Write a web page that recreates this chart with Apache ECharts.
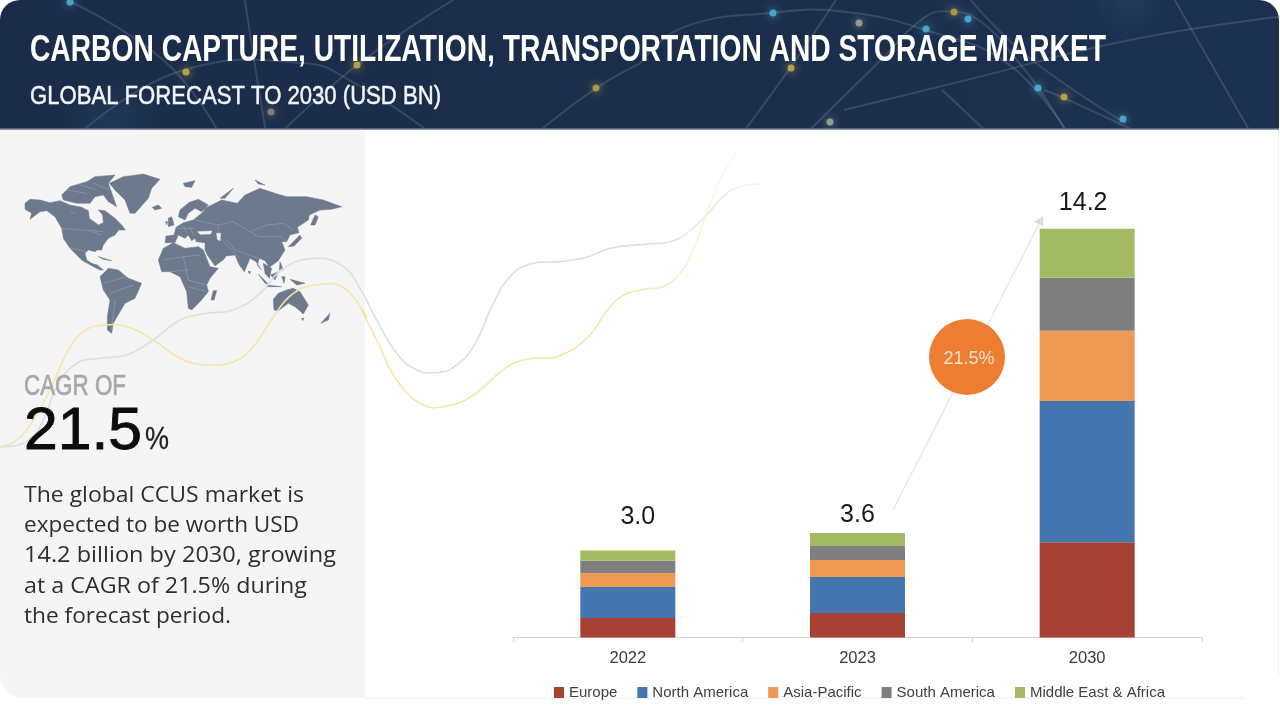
<!DOCTYPE html>
<html><head><meta charset="utf-8">
<style>html,body{margin:0;padding:0;background:#fff}#c{width:1280px;height:706px}</style>
<script src="https://cdn.jsdelivr.net/npm/echarts@6/dist/echarts.min.js"></script>
</head><body><div id="c"></div>
<script>
// ---- chart data ----
const categories = ['2022', '2023', '2030'];
const europe = [0.68, 0.85, 3.31];
const northAmerica = [1.07, 1.25, 4.90];
const asiaPacific = [0.49, 0.59, 2.44];
const southAmerica = [0.42, 0.49, 1.84];
const middleEastAfrica = [0.36, 0.45, 1.70];
const totals = ['3.0', '3.6', '14.2'];
const seriesNames = ['Europe', 'North America', 'Asia-Pacific', 'South America', 'Middle East & Africa'];
const titleText = 'CARBON CAPTURE, UTILIZATION, TRANSPORTATION AND STORAGE MARKET';
const subtitleText = 'GLOBAL FORECAST TO 2030 (USD BN)';
const bodyLines = ['The global CCUS market is', 'expected to be worth USD', '14.2 billion by 2030, growing', 'at a CAGR of 21.5% during', 'the forecast period.'];

// ---- decoration helpers ----
const ctx = document.createElement('canvas').getContext('2d');
function fitText(text, x, y, width, font, size, weight, color, strokeW) {
  ctx.font = (weight || 'normal') + ' ' + size + 'px ' + font;
  const w = ctx.measureText(text).width;
  const style = { text: text, fontFamily: font, fontSize: size, fontWeight: weight || 'normal', fill: color, verticalAlign: 'middle', align: 'left' };
  if (strokeW) { style.stroke = color; style.lineWidth = strokeW; }
  return { type: 'text', x: x, y: y, scaleX: width / w, style: style };
}
const NARROW = '"Liberation Sans Narrow","Liberation Sans"';
const SANS = '"Liberation Sans"';
const PANEL = '#f5f5f5';
const LAND = '#6d7a8d';
const map = (pts, ox, oy, fx, fy) => pts.map(p => [p[0] / (fx || 3) + ox, p[1] / (fy || 3) + oy]);
const A = pts => map(pts, 20, 170);
const B = pts => map(pts, 150, 170);
const land = (pts, fill) => ({ type: 'polygon', shape: { points: pts }, style: { fill: fill || LAND, stroke: fill || LAND, lineWidth: 0.5 } });
const crack = pts => ({ type: 'polyline', shape: { points: pts }, style: { stroke: '#c3c9d2', lineWidth: 0.6, fill: null, opacity: 0.5 } });
function curve(pts, color, w, op) {
  return { type: 'polyline', shape: { points: pts, smooth: 0.45 }, style: { stroke: color, lineWidth: w, fill: null, opacity: op === undefined ? 1 : op } };
}

const landA = [
  // North America with Central America
  [[15,100],[30,88],[60,90],[90,98],[120,92],[150,105],[185,112],[205,122],[208,145],[235,165],[250,158],[248,135],[235,120],[255,122],[285,145],[305,165],[316,180],[296,180],[285,195],[265,205],[250,225],[245,240],[232,240],[225,245],[205,240],[195,250],[200,270],[215,280],[232,285],[250,300],[240,300],[215,287],[185,270],[165,250],[150,235],[130,205],[125,175],[105,140],[80,122],[60,125],[40,140],[30,148],[35,130],[15,118]],
  // Arctic archipelago
  [[125,75],[150,50],[200,35],[225,20],[285,15],[265,40],[290,110],[265,95],[250,75],[225,80],[210,100],[170,100],[130,90]],
  // Greenland
  [[268,40],[310,20],[370,12],[420,28],[395,55],[385,85],[345,130],[330,130],[315,90],[285,60]],
  // Iceland, Cuba
  [[397,112],[415,105],[425,115],[405,120]],
  [[235,260],[275,272],[250,268]],
  // South America
  [[240,320],[265,295],[295,300],[325,325],[365,340],[345,385],[315,400],[300,425],[280,460],[275,490],[262,480],[262,440],[270,390],[250,360]]
];
const landB = [
  // Africa
  [[25,270],[40,235],[70,218],[105,235],[145,230],[160,240],[180,290],[205,295],[180,325],[170,345],[175,365],[150,395],[125,420],[115,415],[110,365],[90,320],[60,305],[35,305]],
  [[190,362],[200,362],[192,390],[183,390]],
  // Scandinavia
  [[85,140],[90,120],[118,97],[145,88],[175,105],[155,125],[135,115],[115,130],[105,150]],
  // Eurasia
  [[45,218],[48,198],[72,195],[78,172],[100,158],[130,150],[160,125],[165,115],[215,90],[262,100],[285,75],[330,55],[375,70],[410,80],[470,80],[520,90],[575,110],[545,118],[510,120],[478,135],[475,150],[442,172],[447,188],[420,195],[410,215],[395,215],[405,240],[385,272],[358,292],[345,272],[328,265],[322,285],[335,300],[318,275],[300,265],[283,305],[268,285],[255,255],[228,258],[222,268],[195,288],[172,255],[165,240],[165,218],[138,215],[135,205],[125,212],[115,195],[105,205],[85,195],[75,218]],
  // Indochina and the islands
  [[340,280],[365,295],[358,325],[345,310]],
  [[325,312],[355,342],[345,340]],
  [[362,315],[385,305],[375,330]],
  [[390,275],[400,300],[388,300]],
  [[350,345],[395,350],[350,350]],
  [[420,328],[465,340],[440,345]],
  [[395,320],[405,320],[402,340]],
  [[295,303],[302,305],[298,312]],
  // Japan, Sakhalin, Arctic islands, British Isles
  [[415,230],[450,195],[455,205],[432,228]],
  [[482,165],[495,135],[505,140],[495,165]],
  [[100,40],[135,32],[125,52],[105,50]],
  [[210,85],[250,55],[225,85]],
  [[315,30],[345,45],[325,42]],
  [[55,145],[65,140],[72,165],[55,170]],
  [[47,155],[53,155],[50,165]],
  // Australia, Tasmania, New Zealand
  [[370,388],[385,370],[410,360],[430,355],[450,365],[475,405],[460,432],[435,410],[415,400],[385,422],[372,420]],
  [[455,445],[462,445],[458,452]],
  [[512,460],[540,430],[535,450]]
];
const inlandWater = [
  [[200,190],[212,190],[210,212],[202,208]],
  [[143,185],[185,183],[182,192],[150,193]]
];
const bordersA = [
  [[150,235],[180,240],[215,250]], [[125,175],[250,185]], [[270,370],[340,345]], [[285,390],[275,480]], [[250,340],[320,320]],
  [[140,60],[200,70]], [[180,45],[230,60]], [[220,40],[270,60]], [[150,128],[165,130]], [[215,185],[245,195]]
];
const bordersB = [
  [[205,165],[250,155],[300,185],[350,165],[400,160],[430,180]], [[300,185],[325,200],[390,200],[410,215]],
  [[40,270],[100,260],[150,255]], [[100,260],[115,330],[170,345]], [[60,305],[115,300]], [[115,350],[170,365]],
  [[135,150],[205,165],[205,200],[270,265]], [[230,210],[255,240],[325,265]], [[100,170],[110,190]], [[120,170],[130,195]], [[75,175],[135,175]]
];

const yellowWave = map([[0,890],[50,870],[100,810],[150,720],[200,610],[250,545],[300,527],[380,530],[460,570],[540,625],[620,645],[700,635],[760,590],[820,500],[880,430],[950,405],[1030,412],[1100,500]], 0, 150)
  .concat(map([[0,470],[50,570],[110,690],[190,765],[260,768],[340,735],[450,645],[520,625],[590,620],[680,565],[770,450],[850,418],[910,410],[960,370],[1000,300],[1040,190],[1080,90],[1130,5]], 360, 150));
const greyWave = map([[0,890],[80,875],[130,810],[170,710],[230,640],[300,625],[380,615],[460,570],[540,510],[620,490],[700,480],[780,430],[850,355],[950,325],[1030,350]], 0, 150)
  .concat(map([[0,415],[50,510],[110,610],[170,660],[225,668],[280,652],[340,590],[400,460],[450,380],[510,342],[600,335],[680,322],[750,295],[850,283],[930,275],[980,250],[1040,195],[1100,130],[1160,105],[1200,103]], 360, 150));

const strandsL = [
  [[165,0],[400,180],[530,385]], [[600,0],[625,200],[650,385]],
  [[210,385],[450,210],[750,190],[870,250],[1040,385]],
  [[700,385],[880,190],[1110,0]], [[1330,385],[1460,265],[1568,190]]
];
const strandsR = [
  [[260,385],[370,200],[480,0]], [[0,190],[100,85],[325,38],[500,35],[700,90],[900,190],[1040,385]],
  [[420,385],[590,180],[700,50],[760,35],[830,60],[930,190],[985,280],[1040,385]],
  [[810,0],[950,170],[1190,370]], [[990,270],[1040,295],[1200,385]],
  [[500,330],[800,240],[1200,120],[1568,50]], [[740,270],[840,385]], [[1310,0],[1490,385]]
];
const headerLights = [
  [70,2,'#4fb3d9'], [186,72,'#c9ad45'], [357,65,'#c9ad45'], [271,112,'#8b8a80'], [596,88,'#b8a340'],
  [773,13,'#4fb3d9'], [859,23,'#a7a89c'], [926,29,'#4fb3d9'], [968,19,'#4fb3d9'], [791,68,'#c9ad45'],
  [830,122,'#a7a89c'], [954,12,'#b8a340'], [1038,88,'#4fb3d9'], [1064,97,'#c9ad45'], [1123,119,'#4fb3d9']
];

const decorBack = [
  { type: 'rect', shape: { x: 0, y: 0, width: 1279, height: 129, r: [20, 20, 0, 0] },
    style: { fill: new echarts.graphic.LinearGradient(0, 0, 1, 0, [{ offset: 0, color: '#1a2c49' }, { offset: 0.5, color: '#1a2d4b' }, { offset: 1, color: '#1c3150' }]) } },
  { type: 'rect', shape: { x: 0, y: 40, width: 320, height: 89 },
    style: { fill: new echarts.graphic.RadialGradient(0.35, 1, 0.6, [{ offset: 0, color: 'rgba(52,92,130,0.3)' }, { offset: 1, color: 'rgba(52,92,130,0)' }]) } },
  { type: 'rect', shape: { x: 1000, y: 0, width: 260, height: 70 },
    style: { fill: new echarts.graphic.RadialGradient(0.5, 0, 0.6, [{ offset: 0, color: 'rgba(52,92,130,0.3)' }, { offset: 1, color: 'rgba(52,92,130,0)' }]) } },
  { type: 'rect', shape: { x: 0, y: 128.5, width: 1279, height: 1.5 }, style: { fill: '#8d99a8' } },
  { type: 'rect', shape: { x: 0, y: 130, width: 365, height: 568, r: [0, 0, 0, 24] }, style: { fill: PANEL } },
  { type: 'rect', shape: { x: 365, y: 697.5, width: 880, height: 1 }, style: { fill: '#f0f0f0' } },
  { type: 'rect', shape: { x: 1278, y: 130, width: 1, height: 545 }, style: { fill: '#f2f2f2' } }
];
strandsL.forEach(s => decorBack.push(curve(map(s, 0, 0, 2.45, 3), '#8c9bb1', 2, 0.25)));
strandsR.forEach(s => decorBack.push(curve(map(s, 640, 0, 2.45, 3), '#8c9bb1', 2, 0.25)));
headerLights.forEach(l => decorBack.push({ type: 'circle', shape: { cx: l[0], cy: l[1], r: 3.5 }, style: { fill: l[2], opacity: 0.85, shadowBlur: 9, shadowColor: l[2] } }));
landA.forEach(p => decorBack.push(land(A(p))));
landB.forEach(p => decorBack.push(land(B(p))));
inlandWater.forEach(p => decorBack.push(land(B(p), PANEL)));
bordersA.forEach(b => decorBack.push(crack(A(b))));
bordersB.forEach(b => decorBack.push(crack(B(b))));
const fade = (c0, c1) => new echarts.graphic.LinearGradient(0, 0, 1, 0, [{ offset: 0, color: c0 }, { offset: 0.85, color: c0 }, { offset: 1, color: c1 }]);
const gw = curve(greyWave, '#dedede', 1.6); gw.style.stroke = fade('#dedede', '#f6f6f6');
const yw = curve(yellowWave, '#f6e4ab', 1.6); yw.style.stroke = fade('#f6e4ab', '#fdfaf0');
decorBack.push(gw, yw);
decorBack.forEach(e => { e.silent = true; e.z = -10; });

const decorTop = [
  fitText(titleText, 30, 51, 1076, NARROW, 36, 'bold', '#ffffff'),
  fitText(subtitleText, 30, 97, 411, NARROW, 26, 'normal', '#f2f4f7', 0.5),
  fitText('CAGR OF', 24, 387, 102, NARROW, 30, 'normal', '#a8a8a8', 0.7),
  fitText('21.5', 24, 432, 118, SANS, 60, 'normal', '#0c0c0c', 0.9),
  fitText('%', 145, 440, 24, SANS, 31, 'normal', '#222222', 0.3),
  { type: 'polyline', shape: { points: [[893, 510], [1040, 222]] }, style: { stroke: '#e8e8ec', lineWidth: 1.4, fill: null } },
  { type: 'polygon', shape: { points: [[1043, 216], [1034, 222], [1043, 226]] }, style: { fill: '#dcdce0' } },
  { type: 'circle', shape: { cx: 967, cy: 357, r: 38 }, style: { fill: '#ED7D31' } },
  { type: 'text', x: 969, y: 359, style: { text: '21.5%', fontFamily: SANS, fontSize: 18, fill: '#fbe3d0', align: 'center', verticalAlign: 'middle' } }
];
const bodyWidths = [280, 275, 312, 283, 207];
bodyLines.forEach((line, i) => {
  decorTop.push(fitText(line, 24, 495.5 + i * 30.3, bodyWidths[i], '"Open Sans"', 22, 'normal', '#2e2e2e'));
});
decorTop.forEach(e => { e.silent = true; e.z = 20; });

const totalLabelShift = [[10, -16], [0, 0], [-4, -8]];
const seriesValues = [europe, northAmerica, asiaPacific, southAmerica, middleEastAfrica];
const colors = ['#A64234', '#4676B0', '#EE9A55', '#7F7F7F', '#A2BA62'];

const series = seriesNames.map((name, i) => ({
  name: name, type: 'bar', stack: 'total', barWidth: 95,
  itemStyle: { color: colors[i] },
  emphasis: { disabled: true },
  data: seriesValues[i].map((v, k) => i === seriesNames.length - 1
    ? { value: v, label: { show: true, position: 'top', formatter: totals[k], offset: totalLabelShift[k], fontFamily: SANS, fontSize: 25, color: '#1a1a1a' } }
    : v)
}));

const chart = echarts.init(document.getElementById('c'), null, { renderer: 'canvas' });
chart.setOption({
  animation: false,
  backgroundColor: '#ffffff',
  grid: { left: 513, right: 78, top: 176.5, bottom: 68.5 },
  xAxis: {
    type: 'category', data: categories,
    axisLine: { lineStyle: { color: '#d4d4d4', width: 1.2 } },
    axisTick: { show: true, alignWithLabel: false, length: 5, lineStyle: { color: '#d4d4d4' } },
    axisLabel: { color: '#3a3a3a', fontFamily: SANS, fontSize: 16.5, margin: 12 }
  },
  yAxis: { type: 'value', min: 0, max: 16, show: false },
  legend: {
    data: seriesNames, left: 554, top: 685, padding: 0, itemWidth: 10, itemHeight: 11, itemGap: 20,
    icon: 'rect', selectedMode: false,
    textStyle: { color: '#404040', fontFamily: SANS, fontSize: 15 }
  },
  series: series,
  graphic: { elements: decorBack.concat(decorTop) }
});
</script></body></html>
